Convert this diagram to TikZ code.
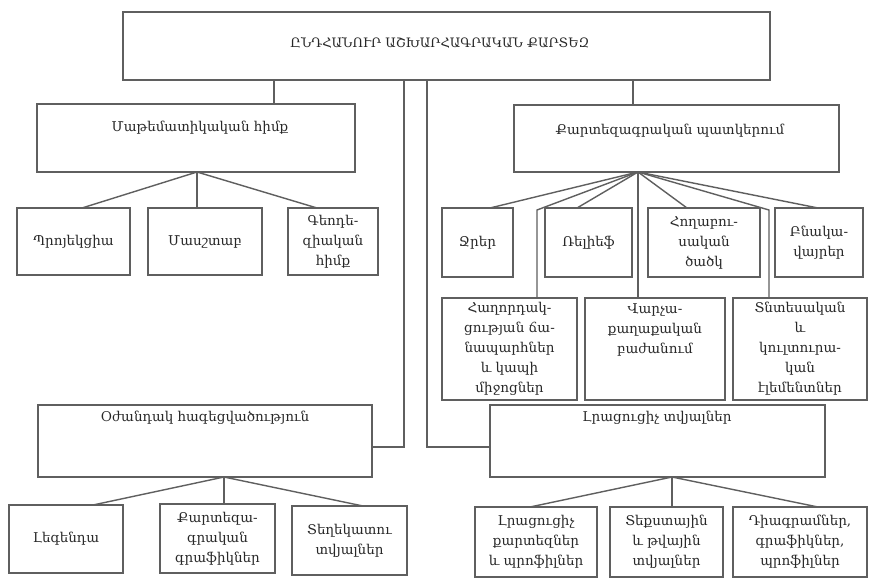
\documentclass[tikz,border=0pt]{standalone}
\usepackage{fontspec}
\setmainfont{DejaVu Serif}
\definecolor{linegray}{RGB}{95,95,95}
\definecolor{txtgray}{RGB}{40,40,40}
\newcommand\fs{\fontsize{13.5}{20}\selectfont}
\newcommand\mybox[6]{%
  \node[box, minimum width={(#4-#2)*1pt}, minimum height={(#5-#3)*1pt}] (#1) at ({(#2+#4)/2},{(#3+#5)/2}) {#6};}
\begin{document}
\begin{tikzpicture}[x=1pt,y=-1pt,
  box/.style={draw=linegray, line width=1.4pt, inner sep=1pt, outer sep=0pt, align=center, font=\fs, text=txtgray},
  txt/.style={inner sep=0pt, align=center, font=\fs, text=txtgray},
  conn/.style={draw=linegray, line width=1.4pt}]
\useasboundingbox[fill=white] (0,0) rectangle (877,588);
% boxes
\mybox{top}{123}{12}{770}{80}{}
\node[txt, font=\fontsize{13}{20}\selectfont] (topt) at (440,43) {ԸՆԴՀԱՆՈՒՐ ԱՇԽԱՐՀԱԳՐԱԿԱՆ ՔԱՐՏԵԶ};
\mybox{math}{37}{104}{355}{172}{}
\node[txt] (matht) at (200,128) {Մաթեմատիկական հիմք};
\mybox{cart}{514}{105}{839}{172}{}
\node[txt] (cartt) at (670,131) {Քարտեզագրական պատկերում};
\mybox{proj}{17}{208}{130}{275}{Պրոյեկցիա}
\mybox{masht}{148}{208}{262}{275}{Մասշտաբ}
\mybox{geod}{288}{208}{378}{275}{Գեոդե-\\զիական\\հիմք}
\mybox{jrer}{442}{208}{513}{277}{Ջրեր}
\mybox{relief}{545}{208}{632}{277}{Ռելիեֆ}
\mybox{hogh}{648}{208}{760}{277}{Հողաբու-\\սական\\ծածկ}
\mybox{bnak}{775}{208}{863}{277}{Բնակա-\\վայրեր}
\mybox{hagh}{442}{298}{577}{400}{Հաղորդակ-\\ցության ճա-\\նապարհներ\\և կապի\\միջոցներ}
\mybox{varch}{585}{298}{725}{400}{}
\node[txt, anchor=north] (varcht) at (655,303) {Վարչա-\\քաղաքական\\բաժանում};
\mybox{tntes}{733}{298}{867}{400}{Տնտեսական\\և\\կուլտուրա-\\կան\\էլեմենտներ}
\mybox{oz}{38}{405}{372}{477}{}
\node[txt] (ozt) at (205,418) {Օժանդակ հագեցվածություն};
\mybox{lrac}{490}{405}{825}{477}{}
\node[txt] (lract) at (657,418) {Լրացուցիչ տվյալներ};
\mybox{legend}{9}{505}{123}{573}{Լեգենդա}
\mybox{kartg}{160}{504}{275}{573}{Քարտեզա-\\գրական\\գրաֆիկներ}
\mybox{tegh}{292}{506}{407}{575}{Տեղեկատու\\տվյալներ}
\mybox{lracq}{475}{507}{597}{577}{Լրացուցիչ\\քարտեզներ\\և պրոֆիլներ}
\mybox{tekst}{610}{507}{723}{577}{Տեքստային\\և թվային\\տվյալներ}
\mybox{diagr}{733}{507}{867}{577}{Դիագրամներ,\\գրաֆիկներ,\\պրոֆիլներ}
% fan origins and bends
\coordinate (mo) at (197,0 |- math.south);
\coordinate (co) at (638,0 |- cart.south);
\coordinate (oo) at (224,0 |- oz.south);
\coordinate (lo) at (672,0 |- lrac.south);
\coordinate (bl) at (537,210);
\coordinate (br) at (769,210);
\coordinate (jl) at (404,447);
\coordinate (jr) at (427,447);
% connectors
\draw[conn] (274,0 |- top.south) -- (274,0 |- math.north);
\draw[conn] (633,0 |- top.south) -- (633,0 |- cart.north);
\draw[conn] (404,0 |- top.south) -- (jl) -- (oz.east |- jl);
\draw[conn] (427,0 |- top.south) -- (jr) -- (lrac.west |- jr);
\draw[conn] (mo) -- (82,0 |- proj.north);
\draw[conn] (mo) -- (197,0 |- masht.north);
\draw[conn] (mo) -- (317,0 |- geod.north);
\draw[conn] (co) -- (490,0 |- jrer.north);
\draw[conn] (co) -- (bl) -- (bl |- hagh.north);
\draw[conn] (co) -- (577,0 |- relief.north);
\draw[conn] (co) -- (co |- varch.north);
\draw[conn] (co) -- (687,0 |- hogh.north);
\draw[conn] (co) -- (br) -- (br |- tntes.north);
\draw[conn] (co) -- (818,0 |- bnak.north);
\draw[conn] (oo) -- (93,0 |- legend.north);
\draw[conn] (oo) -- (224,0 |- kartg.north);
\draw[conn] (oo) -- (363,0 |- tegh.north);
\draw[conn] (lo) -- (530,0 |- lracq.north);
\draw[conn] (lo) -- (672,0 |- tekst.north);
\draw[conn] (lo) -- (818,0 |- diagr.north);
\end{tikzpicture}
\end{document}
